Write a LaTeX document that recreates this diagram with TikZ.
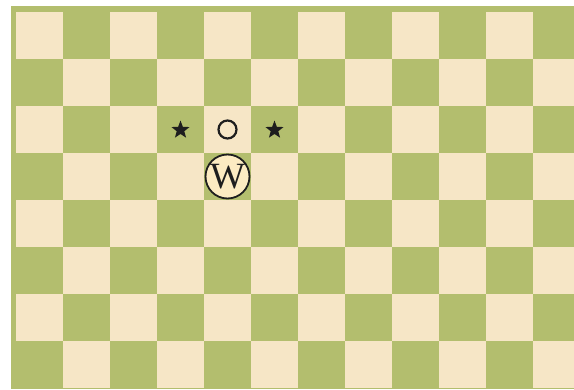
\documentclass[tikz,border=0pt]{standalone}
\usepackage{fontspec}
\setmainfont{Liberation Serif}
\usetikzlibrary{shapes.geometric}
\definecolor{boardgreen}{RGB}{179,190,110}
\definecolor{boardlight}{RGB}{246,230,198}
\definecolor{piecefill}{RGB}{252,235,194}
\definecolor{ink}{RGB}{30,30,30}
\tikzset{
  lightsq/.style={fill=boardlight, draw=none},
  starmark/.style={star, star points=5, star point ratio=2.4, fill=ink, draw=none, inner sep=0pt, minimum size=19pt},
  ringmark/.style={circle, draw=ink, line width=2.2pt, fill=none, inner sep=0pt, minimum size=18pt},
  piece/.style={circle, draw=ink, line width=1.8pt, fill=piecefill, inner sep=0pt, minimum size=44pt, font=\fontsize{37}{37}\selectfont, text=ink}
}
\begin{document}
\begin{tikzpicture}[x=1pt,y=-1pt]
\useasboundingbox (0,0) rectangle (574,389);
\fill[white] (0,0) rectangle (574,389);
\begin{scope}
\clip (11,6) rectangle (574,389);
\fill[boardgreen] (11,6) rectangle (574,389);
\foreach \c in {0,...,11}{
  \foreach \r in {0,...,7}{
    \pgfmathtruncatemacro{\sqpar}{mod(\c+\r,2)}
    \ifnum\sqpar=0
      \fill[lightsq] ({16+47*\c},{12+47*\r}) rectangle ({16+47*(\c+1)},{12+47*(\r+1)});
    \fi
  }
}
\end{scope}
\node[starmark] (starL) at (180.5,130) {};
\node[ringmark] (ring) at (227.5,129.5) {};
\node[starmark] (starR) at (274.5,130) {};
\node[piece] (W) at (227.5,176.5) {W};
\end{tikzpicture}
\end{document}
